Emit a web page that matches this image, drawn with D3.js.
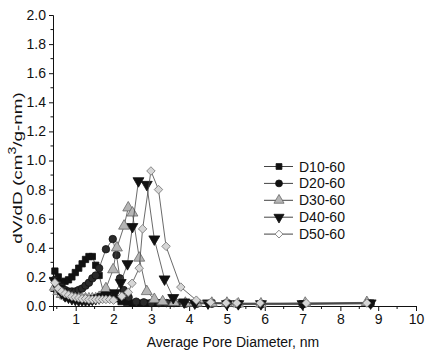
<!DOCTYPE html>
<html>
<head>
<meta charset="utf-8">
<script src="https://cdn.jsdelivr.net/npm/d3@7"></script>
<style>
  body { margin: 0; background: #fff; }
  text { font-family: "Liberation Sans", Arial, sans-serif; fill: #111; }
</style>
</head>
<body>
<div id="chart"></div>
<script>
// pore size distribution
var seriesNames = ["D10-60", "D20-60", "D30-60", "D40-60", "D50-60"];

var d10x = [0.45,0.54,0.63,0.72,0.81,0.9,0.99,1.08,1.17,1.26,1.35,1.44,1.53,1.62,1.75,1.85,1.95,2.05,2.2,2.35,2.5,2.7,2.9,3.1,3.3,3.5,3.8,4.2,4.6,5.0,5.3,5.9,7.0,8.8];
var d10y = [0.24,0.2,0.16,0.17,0.18,0.2,0.23,0.26,0.29,0.32,0.34,0.34,0.28,0.21,0.08,0.07,0.06,0.05,0.03,0.025,0.02,0.02,0.02,0.02,0.02,0.02,0.02,0.02,0.02,0.02,0.015,0.015,0.015,0.02];

var d20x = [0.45,0.54,0.63,0.72,0.81,0.9,0.99,1.08,1.17,1.26,1.35,1.44,1.53,1.62,1.8,1.98,2.08,2.17,2.27,2.4,2.6,2.8,3.0,3.2,3.4,3.6,3.9,4.2,4.6,5.0,5.3,5.9,7.0,8.8];
var d20y = [0.18,0.15,0.13,0.11,0.1,0.1,0.1,0.11,0.12,0.14,0.16,0.19,0.21,0.26,0.39,0.46,0.35,0.19,0.11,0.06,0.03,0.025,0.02,0.02,0.02,0.02,0.015,0.015,0.015,0.015,0.01,0.01,0.01,0.015];

var d30x = [0.45,0.54,0.63,0.72,0.81,0.9,0.99,1.08,1.17,1.26,1.35,1.44,1.53,1.62,1.8,1.99,2.09,2.28,2.39,2.5,2.68,2.88,3.08,3.3,3.6,3.9,4.2,4.6,5.0,5.3,5.9,7.07,8.7];
var d30y = [0.13,0.1,0.08,0.07,0.06,0.055,0.05,0.05,0.05,0.05,0.05,0.05,0.05,0.06,0.12,0.25,0.4,0.55,0.675,0.64,0.33,0.1,0.046,0.03,0.025,0.02,0.02,0.02,0.02,0.015,0.015,0.02,0.025];

var d40x = [0.45,0.54,0.63,0.72,0.81,0.9,0.99,1.08,1.17,1.26,1.35,1.44,1.53,1.62,1.71,1.82,2.04,2.19,2.37,2.5,2.66,2.88,3.08,3.35,3.58,3.87,4.15,4.5,5.0,5.3,5.9,7.0,8.8];
var d40y = [0.17,0.12,0.09,0.07,0.06,0.05,0.045,0.04,0.04,0.04,0.04,0.045,0.05,0.055,0.065,0.075,0.09,0.16,0.29,0.545,0.86,0.835,0.46,0.185,0.057,0.027,0.02,0.02,0.015,0.015,0.015,0.015,0.02];

var d50x = [0.45,0.54,0.63,0.72,0.81,0.9,0.99,1.08,1.17,1.26,1.35,1.44,1.53,1.62,1.71,1.8,1.9,2.0,2.22,2.39,2.49,2.68,2.77,2.99,3.19,3.39,3.78,4.19,4.57,4.98,5.26,5.88,7.1,8.7];
var d50y = [0.16,0.12,0.1,0.085,0.075,0.065,0.06,0.055,0.05,0.05,0.045,0.045,0.045,0.045,0.045,0.045,0.045,0.04,0.067,0.094,0.156,0.26,0.53,0.928,0.8,0.41,0.13,0.04,0.025,0.02,0.02,0.02,0.02,0.02];

var xTicks = [1,2,3,4,5,6,7,8,9,10];
var yTicks = [0,0.2,0.4,0.6,0.8,1.0,1.2,1.4,1.6,1.8,2.0];

var width = 426, height = 354;

var svg = d3.select("#chart").append("svg")
    .attr("width", width)
    .attr("height", height);

var x = d3.scaleLinear().domain([0.4, 10]).range([53, 416]);
var y = d3.scaleLinear().domain([0, 2]).range([306, 15]);

var styles = [
    { sym: d3.symbolSquare, size: 40, rot: 0, fill: "#111", stroke: "#111", legFill: "#111" },
    { sym: d3.symbolCircle, size: 44, rot: 0, fill: "#2a2a2a", stroke: "#111", legFill: "#111" },
    { sym: d3.symbolTriangle, size: 52, rot: 0, fill: "#b5b5b5", stroke: "#666", legFill: "#b5b5b5" },
    { sym: d3.symbolTriangle, size: 52, rot: 180, fill: "#111", stroke: "#111", legFill: "#111" },
    { sym: d3.symbolSquare, size: 36, rot: 45, fill: "#d6d6d6", stroke: "#777", legFill: "#fff" }
];

var series = [
    { name: seriesNames[0], xs: d10x, ys: d10y },
    { name: seriesNames[1], xs: d20x, ys: d20y },
    { name: seriesNames[2], xs: d30x, ys: d30y },
    { name: seriesNames[3], xs: d40x, ys: d40y },
    { name: seriesNames[4], xs: d50x, ys: d50y }
];

// axes
var xAxis = d3.axisBottom(x).tickValues(xTicks).tickSize(5).tickPadding(3).tickFormat(d3.format("d"));
var gx = svg.append("g").attr("transform", "translate(0," + y(0) + ")").call(xAxis);
gx.selectAll(".tick text").attr("font-size", 14).attr("font-family", "Liberation Sans, Arial");
gx.append("g").selectAll("line")
    .data(d3.range(0.5, 10, 1))
    .enter().append("line")
    .attr("x1", function(d) { return x(d); })
    .attr("x2", function(d) { return x(d); })
    .attr("y1", 0).attr("y2", 3)
    .attr("stroke", "#111");

var yAxis = d3.axisLeft(y).tickValues(yTicks).tickSize(4).tickPadding(3).tickFormat(d3.format(".1f"));
var gy = svg.append("g").attr("transform", "translate(" + x(0.4) + ",0)").call(yAxis);
gy.selectAll(".tick text").attr("font-size", 14).attr("font-family", "Liberation Sans, Arial");
gy.append("g").selectAll("line")
    .data(d3.range(0.1, 2, 0.2))
    .enter().append("line")
    .attr("y1", function(d) { return y(d); })
    .attr("y2", function(d) { return y(d); })
    .attr("x1", 0).attr("x2", -2.5)
    .attr("stroke", "#111");
svg.selectAll(".domain").attr("stroke", "#111");
svg.selectAll(".tick line").attr("stroke", "#111");

// lines + markers
var line = d3.line()
    .x(function(d) { return x(d[0]); })
    .y(function(d) { return y(d[1]); });

series.forEach(function(s, i) {
    var pts = d3.zip(s.xs, s.ys);
    var st = styles[i];
    svg.append("path")
        .datum(pts)
        .attr("d", line)
        .attr("fill", "none")
        .attr("stroke", "#444")
        .attr("stroke-width", 0.8);
    svg.append("g").selectAll("path")
        .data(pts)
        .enter().append("path")
        .attr("d", d3.symbol().type(st.sym).size(st.size))
        .attr("transform", function(d) {
            return "translate(" + x(d[0]) + "," + y(d[1]) + ") rotate(" + st.rot + ")";
        })
        .attr("fill", st.fill)
        .attr("stroke", st.stroke)
        .attr("stroke-width", 0.8);
});

// legend
var legend = svg.append("g");
series.forEach(function(s, i) {
    var st = styles[i];
    var ly = 166.5 + i * 16.9;
    legend.append("line")
        .attr("x1", 264).attr("x2", 293)
        .attr("y1", ly).attr("y2", ly)
        .attr("stroke", "#444").attr("stroke-width", 1);
    legend.append("path")
        .attr("d", d3.symbol().type(st.sym).size(st.size * 0.85))
        .attr("transform", "translate(279," + ly + ") rotate(" + st.rot + ")")
        .attr("fill", st.legFill)
        .attr("stroke", st.stroke)
        .attr("stroke-width", 0.8);
    legend.append("text")
        .attr("x", 299).attr("y", ly + 5)
        .attr("font-size", 14)
        .text(s.name);
});

// axis titles
svg.append("text")
    .attr("x", 233).attr("y", 347)
    .attr("text-anchor", "middle")
    .attr("font-size", 14)
    .text("Average Pore Diameter, nm");

var yt = svg.append("text")
    .attr("transform", "translate(22,168) rotate(-90) scale(1.4,1)")
    .attr("text-anchor", "middle")
    .attr("font-size", 13.5);
yt.append("tspan").text("dV/dD (cm");
yt.append("tspan").attr("dy", -6).attr("font-size", 10).text("3");
yt.append("tspan").attr("dy", 6).text("/g-nm)");
</script>
</body>
</html>
